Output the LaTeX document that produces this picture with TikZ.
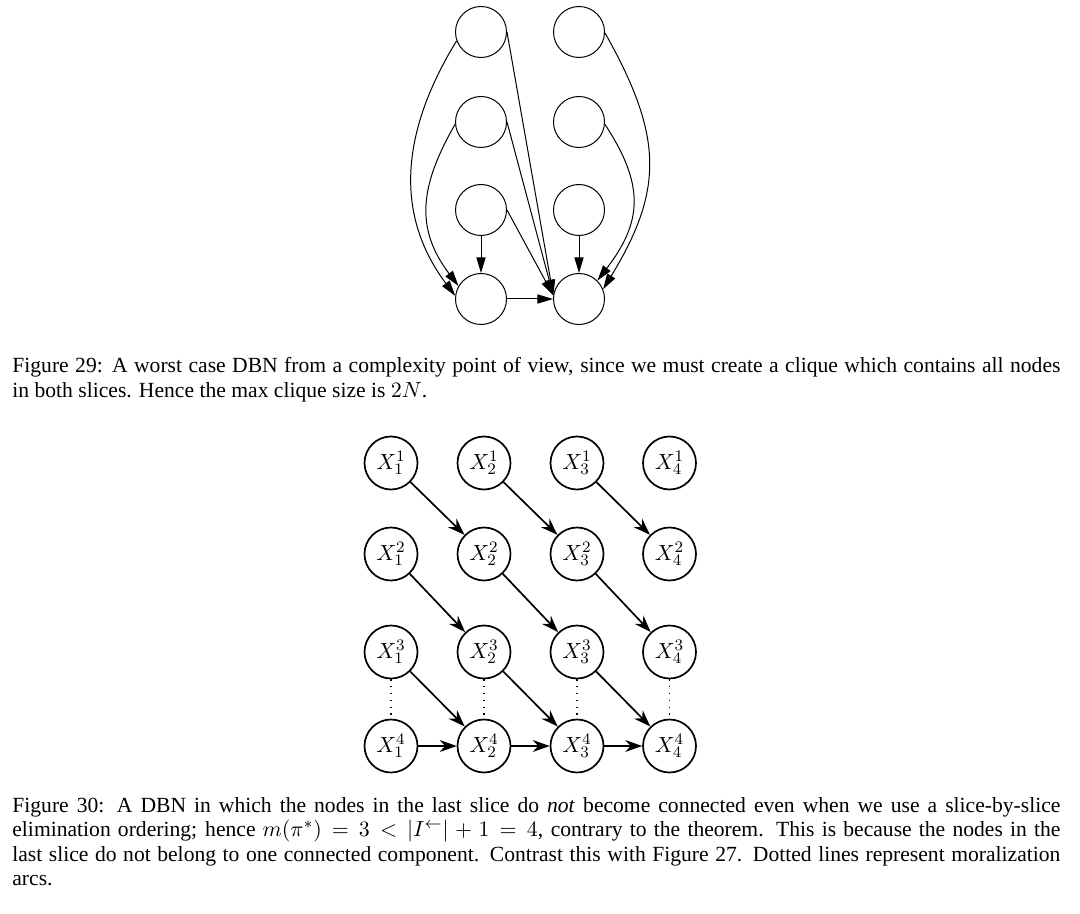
\documentclass[tikz,border=0pt]{standalone}
\usepackage[no-math]{fontspec}
\setmainfont{Liberation Serif}
\usetikzlibrary{arrows.meta}
\begin{document}
\begin{tikzpicture}[x=0.5pt,y=-0.5pt,
  gnode/.style={circle, draw=black, line width=0.5pt, minimum size=25.5pt, inner sep=0pt},
  gedge/.style={line width=0.5pt, -{Triangle[length=7.8pt,width=4.6pt]}},
  vnode/.style={circle, draw=black, line width=0.85pt, minimum size=26.5pt, inner sep=0pt, font=\fontsize{11.3}{12}\selectfont},
  vedge/.style={line width=0.85pt, -{Stealth[length=8.5pt,width=6pt,inset=2.8pt]}},
  moral/.style={line width=0.6pt, dash pattern=on 0.6pt off 2.8pt},
  capt/.style={anchor=base west, text width=524pt, align=justify, inner sep=0pt, font=\fontsize{10.8}{12.25}\selectfont}
]
\useasboundingbox (0,0) rectangle (1080,914);
\fill[white] (0,0) rectangle (1080,914);

% ---------- Figure 29 ----------
\node[gnode] (a1) at (481,32) {};
\node[gnode] (a2) at (481,122) {};
\node[gnode] (a3) at (481,210) {};
\node[gnode] (a4) at (481,299) {};
\node[gnode] (b1) at (579,32) {};
\node[gnode] (b2) at (579,122) {};
\node[gnode] (b3) at (579,210) {};
\node[gnode] (b4) at (579,299) {};

\draw[gedge] (a3) -- (a4);
\draw[gedge] (b3) -- (b4);
\draw[gedge] (a4) -- (b4);
\draw[gedge] (a1.east) -- (b4.172);
\draw[gedge] (a2.east) -- (b4.172);
\draw[gedge] (a3.east) -- (b4.172);
\draw[gedge] (a1.200) .. controls +(-57,93) and +(-60,-80) .. (a4.173);
\draw[gedge] (a2.185) .. controls +(-35,61) and +(-44,-58) .. (a4.150);
\draw[gedge] (b1.358) .. controls +(58,103) and +(61,-100) .. (b4.22);
\draw[gedge] (b2.355) .. controls +(40,61) and +(45,-59) .. (b4.45);

\node[capt] (cap29) at (12,372.5) {\noindent Figure 29: A worst case DBN from a complexity point of view, since we must create a clique which contains all nodes\linebreak in both slices. Hence the max clique size is $2N$.};

% ---------- Figure 30 ----------
\foreach \c/\xx in {1/391,2/484,3/577,4/669.5}{
  \foreach \r/\yy in {1/463,2/554,3/652,4/746}{
    \node[vnode] (x\c\r) at (\xx,\yy) {$X_{\c}^{\r}$};
  }
}
\foreach \c/\d in {1/2,2/3,3/4}{
  \foreach \r/\s in {1/2,2/3,3/4}{
    \draw[vedge] (x\c\r) -- (x\d\s);
  }
  \draw[vedge] (x\c4) -- (x\d4);
}
\foreach \c in {1,2,3,4}{
  \draw[moral] (x\c3) -- (x\c4);
}

\node[capt] (cap30) at (12,812) {\noindent Figure 30: A DBN in which the nodes in the last slice do \emph{not} become connected even when we use a slice-by-slice\linebreak elimination ordering; hence $m(\pi^*)=3<\left|I^{\leftarrow}\right|+1=4$, contrary to the theorem. This is because the nodes in the\linebreak last slice do not belong to one connected component. Contrast this with Figure 27. Dotted lines represent moralization\linebreak arcs.};
\end{tikzpicture}
\end{document}
